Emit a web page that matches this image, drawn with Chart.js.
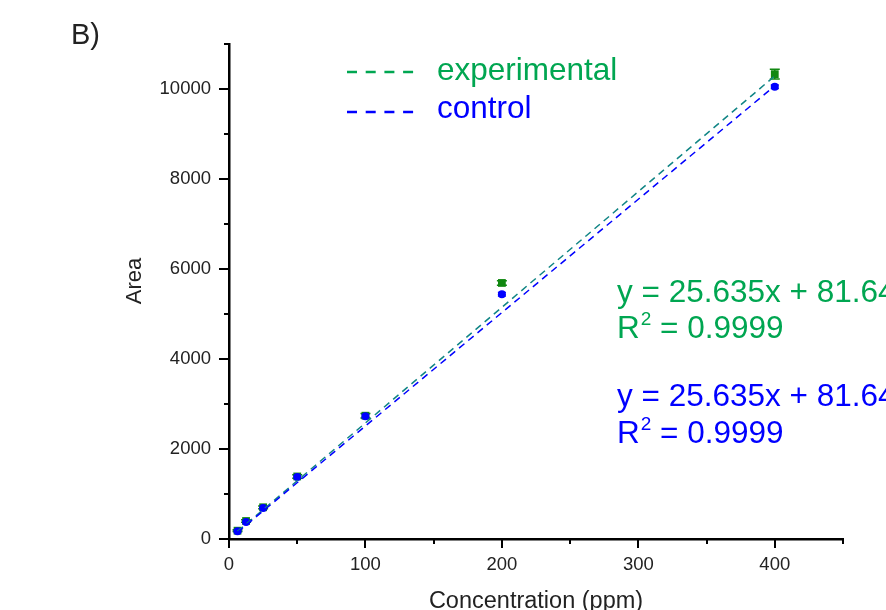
<!DOCTYPE html>
<html>
<head>
<meta charset="utf-8">
<script src="https://cdn.jsdelivr.net/npm/chart.js@4"></script>
<style>
  html, body { margin: 0; padding: 0; background: #fff; }
  #wrap { width: 886px; height: 610px; }
</style>
</head>
<body>
<div id="wrap"><canvas id="chart" width="886" height="610"></canvas></div>
<script>
// 浓度 (ppm)
const concentrations = [6.25, 12.5, 25, 50, 100, 200, 400];
// 实验组与对照组的峰面积
const experimentalArea = [185, 400, 705, 1390, 2740, 5690, 10330];
const controlArea = [175, 380, 690, 1380, 2730, 5440, 10050];
// 误差
const experimentalErr = [20, 30, 30, 40, 50, 50, 110];
const controlErr = [15, 20, 20, 30, 40, 40, 40];
// 拟合线端点
const fitX = [6.25, 400];
const experimentalFit = [170, 10290];
const controlFit = [150, 10070];
// 刻度
const xMajorTicks = [0, 100, 200, 300, 400];
const yMajorTicks = [0, 2000, 4000, 6000, 8000, 10000];

const GREEN = '#00a651';
const BLUE = '#0000ff';
const FONT = '"Liberation Sans", Arial, sans-serif';

function toPoints(xs, ys) {
  return xs.map((x, i) => ({ x: x, y: ys[i] }));
}

// 误差棒、刻度线、文字
const decorPlugin = {
  id: 'decor',
  beforeDatasetsDraw(chart) {
    const ctx = chart.ctx;
    const xs = chart.scales.x, ys = chart.scales.y;
    const drawErr = (vals, errs, color, cap) => {
      ctx.save();
      ctx.strokeStyle = color;
      ctx.lineWidth = 1.5;
      vals.forEach((v, i) => {
        const px = xs.getPixelForValue(concentrations[i]);
        const top = ys.getPixelForValue(v + errs[i]);
        const bot = ys.getPixelForValue(v - errs[i]);
        ctx.beginPath();
        ctx.moveTo(px, top); ctx.lineTo(px, bot);
        ctx.moveTo(px - cap, top); ctx.lineTo(px + cap, top);
        ctx.moveTo(px - cap, bot); ctx.lineTo(px + cap, bot);
        ctx.stroke();
      });
      ctx.restore();
    };
    drawErr(experimentalArea, experimentalErr, '#118811', 5);
    drawErr(controlArea, controlErr, BLUE, 4);
  },
  afterDraw(chart) {
    const ctx = chart.ctx;
    const xs = chart.scales.x, ys = chart.scales.y;
    const area = chart.chartArea;

    // 刻度线
    ctx.save();
    ctx.strokeStyle = '#000';
    ctx.lineWidth = 2;
    ys.ticks.forEach(t => {
      const py = Math.round(ys.getPixelForValue(t.value));
      const len = yMajorTicks.includes(t.value) ? 10 : 5;
      ctx.beginPath();
      ctx.moveTo(area.left, py); ctx.lineTo(area.left - len, py);
      ctx.stroke();
    });
    xs.ticks.forEach(t => {
      const px = Math.round(xs.getPixelForValue(t.value));
      const len = xMajorTicks.includes(t.value) ? 9 : 5;
      ctx.beginPath();
      ctx.moveTo(px, area.bottom); ctx.lineTo(px, area.bottom + len);
      ctx.stroke();
    });
    ctx.restore();

    ctx.save();
    ctx.textBaseline = 'alphabetic';
    // 面板标签
    ctx.fillStyle = '#222';
    ctx.font = '29px ' + FONT;
    ctx.textAlign = 'left';
    ctx.fillText('B)', 71, 44);

    // 坐标轴标题
    ctx.font = '23.5px ' + FONT;
    ctx.textAlign = 'center';
    ctx.fillText('Concentration (ppm)', (area.left + area.right) / 2, 608);
    ctx.save();
    ctx.translate(141, 281);
    ctx.rotate(-Math.PI / 2);
    ctx.font = '22px ' + FONT;
    ctx.fillText('Area', 0, 0);
    ctx.restore();

    // 图例
    ctx.font = '31.5px ' + FONT;
    ctx.textAlign = 'left';
    const legend = [
      { label: 'experimental', color: GREEN, y: 72, base: 80 },
      { label: 'control', color: BLUE, y: 112, base: 118 }
    ];
    legend.forEach(item => {
      ctx.strokeStyle = item.color;
      ctx.lineWidth = 2.5;
      ctx.setLineDash([10, 8.7]);
      ctx.beginPath();
      ctx.moveTo(347, item.y); ctx.lineTo(415, item.y);
      ctx.stroke();
      ctx.setLineDash([]);
      ctx.fillStyle = item.color;
      ctx.fillText(item.label, 437, item.base);
    });

    // 回归方程
    const eq = [
      { color: GREEN, y1: 302, y2: 338 },
      { color: BLUE, y1: 406, y2: 443 }
    ];
    eq.forEach(e => {
      ctx.fillStyle = e.color;
      ctx.font = '31.5px ' + FONT;
      ctx.fillText('y = 25.635x + 81.64', 617, e.y1);
      ctx.fillText('R', 617, e.y2);
      const rw = ctx.measureText('R').width;
      ctx.font = '19px ' + FONT;
      ctx.fillText('2', 617 + rw + 1, e.y2 - 13);
      const sw = ctx.measureText('2').width;
      ctx.font = '31.5px ' + FONT;
      ctx.fillText(' = 0.9999', 617 + rw + sw + 1, e.y2);
    });
    ctx.restore();
  }
};

const tickFont = { family: FONT, size: 18.5 };

new Chart(document.getElementById('chart'), {
  type: 'scatter',
  data: {
    datasets: [
      {
        label: 'control fit',
        data: toPoints(fitX, controlFit),
        showLine: true,
        borderColor: BLUE,
        borderWidth: 1.5,
        borderDash: [7, 5],
        pointRadius: 0,
        fill: false
      },
      {
        label: 'experimental fit',
        data: toPoints(fitX, experimentalFit),
        showLine: true,
        borderColor: '#108585',
        borderWidth: 1.5,
        borderDash: [7, 5],
        pointRadius: 0,
        fill: false
      },
      {
        label: 'control',
        data: toPoints(concentrations, controlArea),
        pointStyle: 'circle',
        pointRadius: 4,
        backgroundColor: BLUE,
        borderColor: BLUE,
        borderWidth: 0
      },
      {
        label: 'experimental',
        data: toPoints(concentrations, experimentalArea),
        pointStyle: 'rect',
        pointRadius: 5.5,
        backgroundColor: '#118811',
        borderColor: '#118811',
        borderWidth: 0
      }
    ]
  },
  options: {
    responsive: false,
    animation: false,
    events: [],
    layout: { padding: { left: 0, top: 44, right: 43, bottom: 0 } },
    plugins: {
      legend: { display: false },
      tooltip: { enabled: false }
    },
    scales: {
      x: {
        type: 'linear',
        min: 0,
        max: 450,
        grid: { display: false },
        border: { display: true, color: '#000', width: 2.5 },
        ticks: {
          stepSize: 50,
          padding: 7,
          color: '#222',
          font: tickFont,
          maxRotation: 0,
          autoSkip: false,
          callback: v => (xMajorTicks.includes(v) ? String(v) : '')
        },
        afterFit: s => { s.height = 71; }
      },
      y: {
        type: 'linear',
        min: 0,
        max: 11000,
        grid: { display: false },
        border: { display: true, color: '#000', width: 2.5 },
        ticks: {
          stepSize: 1000,
          padding: 10,
          color: '#222',
          font: tickFont,
          autoSkip: false,
          callback: v => (yMajorTicks.includes(v) ? String(v) : '')
        },
        afterFit: s => { s.width = 229; }
      }
    }
  },
  plugins: [decorPlugin]
});
</script>
</body>
</html>
